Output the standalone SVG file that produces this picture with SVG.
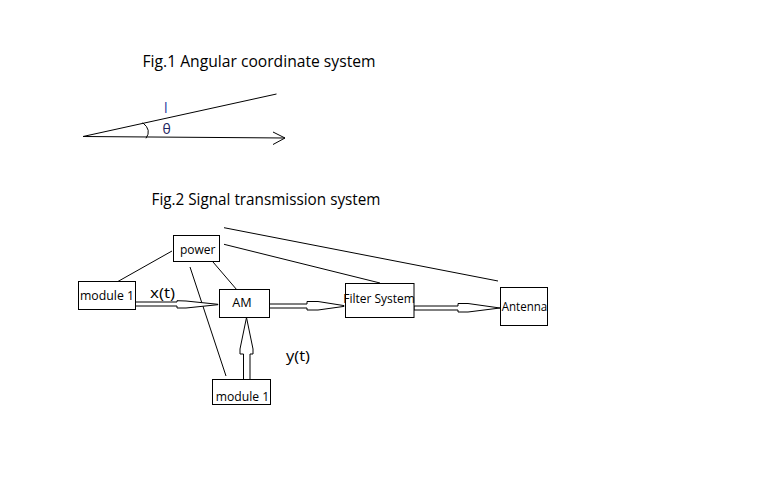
<svg xmlns="http://www.w3.org/2000/svg" width="768" height="480" viewBox="0 0 768 480">
<style>
.t{font-family:"Open Sans","Liberation Sans",sans-serif;fill:#000}
.box{fill:#fff;stroke:#000;stroke-width:1}
.ln{stroke:#000;stroke-width:1;fill:none}
.ar{fill:#fff;stroke:#000;stroke-width:1;stroke-linejoin:miter}
</style>
<rect width="768" height="480" fill="#fff"/>
<g id="fig1">
<text class="t" x="142.5" y="66.7" font-size="16" textLength="233" lengthAdjust="spacingAndGlyphs">Fig.1 Angular coordinate system</text>
<line class="ln" x1="83" y1="136.5" x2="276.5" y2="94"/>
<line class="ln" x1="83" y1="136.5" x2="285" y2="138"/>
<polyline class="ln" points="273,132 285,138 273,144.5"/>
<path class="ln" d="M142.7,122.7 Q152,130 146,138.3"/>
<text x="164" y="113" font-family="Open Sans, Liberation Sans, sans-serif" font-size="14" fill="#1f3a9e">l</text>
<text x="162.5" y="134" font-family="Open Sans, Liberation Sans, sans-serif" font-size="14" fill="#1c2460">θ</text>
</g>
<text class="t" x="151.5" y="204.7" font-size="16" textLength="229" lengthAdjust="spacingAndGlyphs">Fig.2 Signal transmission system</text>
<g id="connectors">
<line class="ln" x1="172" y1="251" x2="117" y2="282"/>
<line class="ln" x1="213" y1="262" x2="237" y2="290"/>
<line class="ln" x1="190" y1="267" x2="226" y2="376"/>
<line class="ln" x1="224" y1="244.3" x2="380" y2="283"/>
<line class="ln" x1="224" y1="227.7" x2="498" y2="281"/>
<polygon class="ar" points="135.5,302 177,302 177,300.7 186,301 218,304.3 218,304.7 186,308 177,308 177,306 135.5,306"/>
<polygon class="ar" points="269.5,304 307,304 307,301.5 318,301.5 344,305.6 344,306.4 318,310 307,310 307,308 269.5,308"/>
<polygon class="ar" points="414,306 458,306 458,303.5 468,303.5 500,308 468,312 458,312 458,310 414,310"/>
<polygon class="ar" points="243.5,379.5 243.5,354 240,354 240,349 246.5,317.5 253,349 253,354 250,354 250,379.5"/>
<text class="t" x="150" y="297.5" font-size="14" textLength="25" lengthAdjust="spacingAndGlyphs">x(t)</text>
<text class="t" x="286" y="361" font-size="14" textLength="24" lengthAdjust="spacingAndGlyphs">y(t)</text>
</g>
<g id="power">
<rect class="box" x="173.5" y="235.5" width="46" height="26"/>
<text class="t" x="180" y="253.5" font-size="12" textLength="35.5" lengthAdjust="spacingAndGlyphs">power</text>
</g>
<g id="module1-left">
<rect class="box" x="78.5" y="281.5" width="57" height="28"/>
<text class="t" x="80" y="299.5" font-size="12.5" textLength="54" lengthAdjust="spacingAndGlyphs">module 1</text>
</g>
<g id="am">
<rect class="box" x="219.5" y="289.5" width="50" height="28"/>
<text class="t" x="232.3" y="306.7" font-size="13" textLength="19.4" lengthAdjust="spacingAndGlyphs">AM</text>
</g>
<g id="filter">
<rect class="box" x="345.5" y="283.5" width="68.5" height="34"/>
<text class="t" x="343.3" y="303.3" font-size="12" textLength="71.5" lengthAdjust="spacingAndGlyphs">Filter System</text>
</g>
<g id="antenna">
<rect class="box" x="500.5" y="287.5" width="47" height="38"/>
<text class="t" x="501.7" y="310.7" font-size="12" textLength="45.5" lengthAdjust="spacingAndGlyphs">Antenna</text>
</g>
<g id="module1-bottom">
<rect class="box" x="212.5" y="379.5" width="58" height="25"/>
<text class="t" x="215.7" y="400.7" font-size="12.5" textLength="53.5" lengthAdjust="spacingAndGlyphs">module 1</text>
</g>
</svg>
